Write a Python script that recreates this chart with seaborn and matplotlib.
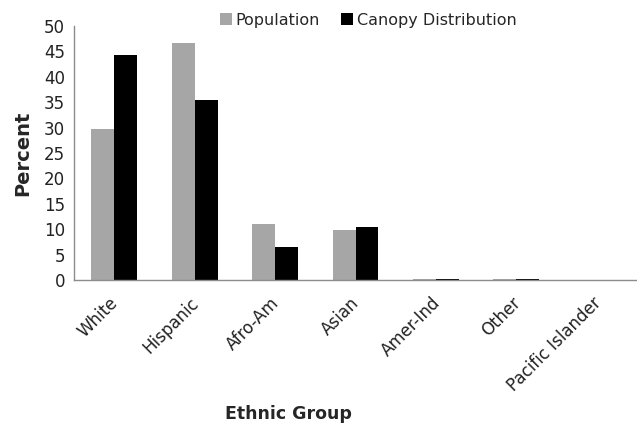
import matplotlib
matplotlib.use("Agg")
import matplotlib.pyplot as plt
import matplotlib.transforms as mtransforms
import seaborn as sns
import pandas as pd

groups = ["White", "Hispanic", "Afro-Am", "Asian", "Amer-Ind", "Other", "Pacific Islander"]
population = [29.7, 46.6, 11.0, 9.8, 0.1, 0.1, 0.05]
canopy = [44.3, 35.4, 6.5, 10.4, 0.2, 0.2, 0.05]
series_names = ["Population", "Canopy Distribution"]

df = pd.DataFrame({
    "group": groups * 2,
    "value": population + canopy,
    "series": [series_names[0]] * len(groups) + [series_names[1]] * len(groups),
})

sns.set_theme(style="white")
plt.rcParams["font.family"] = ["DejaVu Sans"]

fig = plt.figure(figsize=(6.37, 4.25), dpi=100)
ax = fig.add_axes([74 / 637, 1 - 280 / 425, 563 / 637, 254 / 425])

sns.barplot(data=df, x="group", y="value", hue="series",
            palette=["#a6a6a6", "#000000"], width=0.57, gap=0,
            saturation=1, linewidth=0, ax=ax, legend=True)

ax.set_ylim(0, 50)
ax.set_xlim(-0.5, len(groups) - 0.5)
ax.set_yticks(range(0, 51, 5))
ax.tick_params(axis="y", labelsize=12, length=0, pad=6.5, colors="#222222")
ax.tick_params(axis="x", labelsize=12, length=0, pad=10, colors="#222222")

# Rotated category labels, nudged so their upper end sits at the tick
offset = mtransforms.ScaledTranslation(-5 / 100, 0, fig.dpi_scale_trans)
for lbl in ax.get_xticklabels():
    lbl.set_rotation(45)
    lbl.set_ha("right")
    lbl.set_va("top")
    lbl.set_rotation_mode("anchor")
    lbl.set_transform(lbl.get_transform() + offset)

for side in ["top", "right"]:
    ax.spines[side].set_visible(False)
for side in ["left", "bottom"]:
    ax.spines[side].set_color("#8c8c8c")
    ax.spines[side].set_linewidth(1.0)

ax.set_ylabel("Percent", fontsize=14, fontweight="bold", labelpad=8)
ax.set_xlabel("Ethnic Group", fontsize=12.5, fontweight="bold", va="center")
ax.xaxis.set_label_coords((288 - 74) / 563, -(414 - 280) / 254)

leg = ax.legend(loc="center", bbox_to_anchor=((368 - 74) / 563, (280 - 20) / 254),
                ncol=2, frameon=False, fontsize=11.5, handlelength=0.75,
                handleheight=0.75, handletextpad=0.25, columnspacing=1.3,
                borderpad=0)

fig.savefig("out.png", dpi=100, facecolor="white")
